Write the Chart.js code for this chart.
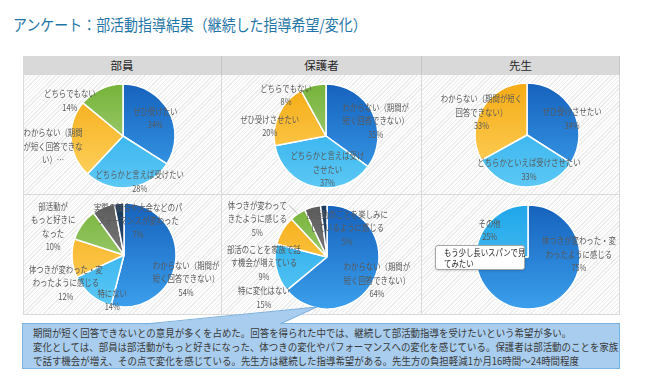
<!DOCTYPE html>
<html lang="ja">
<head>
<meta charset="utf-8">
<title>部活動指導結果</title>
<script src="https://cdn.jsdelivr.net/npm/chart.js@4.4.1/dist/chart.umd.min.js"></script>
<style>
  html, body { margin: 0; padding: 0; background: #fff; }
  body { position: relative; width: 670px; height: 377px; overflow: hidden;
         font-family: "Noto Sans CJK JP", "Noto Sans", sans-serif; }
  .title { position: absolute; left: 13px; top: 13px; font-size: 15.5px; line-height: 22px;
           color: #1f75a6; white-space: nowrap; transform: scaleX(0.9); transform-origin: 0 0; }
  .head { position: absolute; top: 56px; height: 19px; line-height: 19px; background: #d9d9d9;
          text-align: center; font-size: 11.5px; color: #262626; box-sizing: border-box;
          border-right: 1px solid #c6c6c6; }
  .cell { position: absolute; box-sizing: border-box; border-right: 1px solid #dadada;
          border-bottom: 1px solid #dadada;
          background: repeating-linear-gradient(-45deg, #fdfdfd 0 2px, #ececec 2px 3px); }
  canvas { position: absolute; }
  .summary { position: absolute; left: 22px; top: 323px; width: 598px; height: 46px;
             background: #a8cdee; border: 1px solid #7db1de; box-sizing: border-box; }
  .summary .txt { position: absolute; left: 10px; top: 2px; font-size: 10.5px; line-height: 13.8px;
                  color: #3b3b3b; white-space: nowrap; transform: scaleX(0.9); transform-origin: 0 0; }
  .wedge { position: absolute; left: 0; top: 0; z-index: 5; }
  .note { position: absolute; left: 435px; top: 245px; width: 90px; height: 25px; z-index: 5;
          background: #fff; border: 1px solid #a6a6a6; border-radius: 3px; box-sizing: border-box;
          box-shadow: 0 1px 2px rgba(0,0,0,0.15); }
  .note span { position: absolute; left: 8px; top: 1px; font-size: 9px; line-height: 11px;
               color: #262626; white-space: nowrap; transform: scaleX(0.82); transform-origin: 0 0; }
</style>
</head>
<body>
<div class="title">アンケート：部活動指導結果（継続した指導希望/変化）</div>

<div class="summary"><div class="txt">期間が短く回答できないとの意見が多くを占めた。回答を得られた中では、継続して部活動指導を受けたいという希望が多い。<br>変化としては、部員は部活動がもっと好きになった、体つきの変化やパフォーマンスへの変化を感じている。保護者は部活動のことを家族<br>で話す機会が増え、その点で変化を感じている。先生方は継続した指導希望がある。先生方の負担軽減1か月16時間～24時間程度</div></div>

<svg class="wedge" width="670" height="377">
  <polygon points="145,324.5 317,307 280,324.5" fill="#a8cdee"/>
  <polyline points="145,324 317,307 280,324" fill="none" stroke="#7db1de" stroke-width="1"/>
</svg>

<div class="note"><span>もう少し長いスパンで見<br>てみたい</span></div>

<script>
// --- データ ---
const groupNames = ['部員', '保護者', '先生'];

// 上段：継続した指導希望
const buinKibouLabels = ['ぜひ受けたい', 'どちらかと言えば受けたい', 'わからない（期間が短く回答できない）', 'どちらでもない'];
const buinKibouValues = [34, 28, 24, 14];

const hogoshaKibouLabels = ['わからない（期間が短く回答できない）', 'どちらかと言えば受けさせたい', 'ぜひ受けさせたい', 'どちらでもない'];
const hogoshaKibouValues = [35, 37, 20, 8];

const senseiKibouLabels = ['ぜひ受けさせたい', 'どちらかといえば受けさせたい', 'わからない（期間が短く回答できない）'];
const senseiKibouValues = [34, 33, 33];

// 下段：変化
const buinHenkaLabels = ['わからない（期間が短く回答できない）', '特にない', '体つきが変わった・変わったように感じる',
                         '部活動がもっと好きになった', '実際の試合や大会などのパフォーマンスが変わった', 'その他'];
const buinHenkaValues = [54, 14, 12, 10, 7, 3];

const hogoshaHenkaLabels = ['わからない（期間が短く回答できない）', '特に変化はない', '部活のことを家族で話す機会が増えている',
                            '体つきが変わってきたように感じる', '部活動のことを楽しみにしているように感じる', 'その他'];
const hogoshaHenkaValues = [64, 15, 9, 5, 5, 2];

const senseiHenkaLabels = ['体つきが変わった・変わったように感じる', 'その他'];
const senseiHenkaValues = [75, 25];

// --- レイアウト・スタイル ---
const columns = [23, 222, 422, 620];
const rows = [75, 195, 315];
const RADIUS = 52;
const LABEL_FONT = '9px "Noto Sans CJK JP"';
const LINE_H = 13.5;
const SQUEEZE = 0.82;          // Meiryo UI 風に横幅を詰める
const NO_LINE_START = '）、。';

const C = {
    blue:   ['#1662bd', '#3b9fec'],
    sky:    ['#1fa6ea', '#5cc8f5'],
    yellow: ['#f5ab14', '#ffd464'],
    green:  ['#76b33a', '#b6da8f'],
    gray:   ['#5d5d5d', '#8f8f8f'],
    navy:   ['#1b3a5c', '#2d5782']
};

// 表の見出しとセル
groupNames.forEach(function(name, i) {
    const h = document.createElement('div');
    h.className = 'head';
    h.style.left = columns[i] + 'px';
    h.style.width = (columns[i + 1] - columns[i]) + 'px';
    h.textContent = name;
    document.body.appendChild(h);
    for (let r = 0; r < 2; r++) {
        const c = document.createElement('div');
        c.className = 'cell';
        c.style.left = columns[i] + 'px';
        c.style.top = rows[r] + 'px';
        c.style.width = (columns[i + 1] - columns[i]) + 'px';
        c.style.height = (rows[r + 1] - rows[r]) + 'px';
        if (i === 0) c.style.borderLeft = '1px solid #dadada';
        document.body.appendChild(c);
    }
});

// 文字幅で折り返す（1文字単位、必要なら単語単位）
function wrapLines(ctx, text, maxW, byWord) {
    let parts = Array.from(text);
    if (byWord && typeof Intl !== 'undefined' && Intl.Segmenter) {
        parts = Array.from(new Intl.Segmenter('ja', { granularity: 'word' }).segment(text), s => s.segment);
    }
    const lines = [];
    let cur = '';
    parts.forEach(function(p) {
        const next = cur + p;
        if (cur && ctx.measureText(next).width * SQUEEZE > maxW && !NO_LINE_START.includes(p[0])) {
            lines.push(cur);
            cur = p;
        } else {
            cur = next;
        }
    });
    if (cur) lines.push(cur);
    return lines;
}

// データラベル（分類名＋割合）
function labelPlugin(cfg) {
    return {
        id: 'sliceLabels',
        afterDatasetsDraw(chart) {
            const ctx = chart.ctx;
            const arcs = chart.getDatasetMeta(0).data;
            const values = chart.data.datasets[0].data;
            const total = values.reduce((a, b) => a + b, 0);
            ctx.save();
            ctx.font = LABEL_FONT;
            ctx.fillStyle = '#595959';
            ctx.textAlign = 'center';
            ctx.textBaseline = 'middle';
            arcs.forEach(function(arc, i) {
                const pos = cfg.pos[i];
                if (!pos) return;
                const p = arc.getProps(['x', 'y', 'startAngle', 'endAngle', 'outerRadius'], true);
                const mid = (p.startAngle + p.endAngle) / 2;
                const ang = mid + pos[1] * Math.PI / 180;
                const bx = p.x + Math.cos(ang) * p.outerRadius * pos[0];
                const by = p.y + Math.sin(ang) * p.outerRadius * pos[0];
                let lines = wrapLines(ctx, chart.data.labels[i], cfg.wrap[i], cfg.byWord === i);
                lines.push(Math.round(values[i] / total * 100) + '%');
                const maxL = cfg.maxLines ? cfg.maxLines[i] : 0;
                if (maxL && lines.length > maxL) {
                    lines = lines.slice(0, maxL);
                    lines[maxL - 1] += '…';
                }
                const top = by - (lines.length - 1) * LINE_H / 2;
                lines.forEach(function(t, k) {
                    ctx.fillText(t, bx, top + k * LINE_H, ctx.measureText(t).width * SQUEEZE);
                });
                if (cfg.leader === i) {
                    const w0 = ctx.measureText(lines[0]).width * SQUEEZE;
                    ctx.strokeStyle = '#a6a6a6';
                    ctx.lineWidth = 0.75;
                    ctx.beginPath();
                    ctx.moveTo(bx + w0 / 2 + 2, top);
                    ctx.lineTo(p.x + Math.cos(mid) * p.outerRadius, p.y + Math.sin(mid) * p.outerRadius);
                    ctx.stroke();
                }
            });
            ctx.restore();
        }
    };
}

// グラデーション塗り
function gradient(context, colors) {
    const pair = colors[context.dataIndex];
    if (!pair) return '#888';
    const chart = context.chart;
    const area = chart.chartArea;
    if (!area) return pair[0];
    const g = chart.ctx.createLinearGradient(0, area.top, 0, area.bottom);
    g.addColorStop(0, pair[0]);
    g.addColorStop(1, pair[1]);
    return g;
}

// pos: [半径比, 角度補正(度)]
const charts = [
    { row: 0, col: 0, center: [123, 136], labels: buinKibouLabels, values: buinKibouValues,
      colors: [C.blue, C.sky, C.yellow, C.green],
      pos: [[0.71, 0], [0.93, -13], [1.36, -5], [1.23, -31]],
      wrap: [100, 100, 60, 70], maxLines: [0, 0, 3, 0] },
    { row: 0, col: 1, center: [326, 136], labels: hogoshaKibouLabels, values: hogoshaKibouValues,
      colors: [C.blue, C.sky, C.yellow, C.green],
      pos: [[1.0, 10], [0.64, -15], [1.1, -15], [1.1, -30]],
      wrap: [68, 75, 70, 70] },
    { row: 0, col: 2, center: [527, 135], labels: senseiKibouLabels, values: senseiKibouValues,
      colors: [C.blue, C.sky, C.yellow],
      pos: [[0.92, 9], [0.67, -5], [0.98, -4]],
      wrap: [100, 110, 82] },
    { row: 1, col: 0, center: [124, 255], labels: buinHenkaLabels, values: buinHenkaValues,
      colors: [C.blue, C.sky, C.yellow, C.green, C.gray, C.navy],
      pos: [[1.28, 14], [0.9, -25], [1.24, -22], [1.47, -14], [0.71, 46], null],
      wrap: [68, 60, 75, 46, 90, 60], byWord: 3 },
    { row: 1, col: 1, center: [327, 257], labels: hogoshaHenkaLabels, values: hogoshaHenkaValues,
      colors: [C.blue, C.sky, C.yellow, C.green, C.gray, C.navy],
      pos: [[1.06, 0], [1.44, -20], [1.22, -36], [1.53, -27], [0.68, 51], null],
      wrap: [68, 60, 75, 60, 82, 60], leader: 3 },
    { row: 1, col: 2, center: [528, 257], labels: senseiHenkaLabels, values: senseiHenkaValues,
      colors: [C.blue, C.sky],
      pos: [[0.98, -48], [0.9, -10]],
      wrap: [75, 60] }
];

document.addEventListener("DOMContentLoaded", function() {
    charts.forEach(function(g) {
        const x0 = columns[g.col], x1 = columns[g.col + 1];
        const y0 = rows[g.row], y1 = rows[g.row + 1];
        const cv = document.createElement('canvas');
        cv.width = x1 - x0;
        cv.height = y1 - y0;
        cv.style.left = x0 + 'px';
        cv.style.top = y0 + 'px';
        document.body.appendChild(cv);

        new Chart(cv, {
            type: 'pie',
            data: {
                labels: g.labels,
                datasets: [{
                    data: g.values,
                    radius: RADIUS,
                    backgroundColor: ctx => gradient(ctx, g.colors),
                    borderColor: '#ffffff',
                    borderWidth: 1.5,
                    hoverOffset: 0
                }]
            },
            options: {
                responsive: false,
                animation: false,
                events: [],
                layout: {
                    padding: {
                        left: g.center[0] - RADIUS - x0,
                        right: x1 - g.center[0] - RADIUS,
                        top: g.center[1] - RADIUS - y0,
                        bottom: y1 - g.center[1] - RADIUS
                    }
                },
                plugins: {
                    legend: { display: false },
                    tooltip: { enabled: false }
                }
            },
            plugins: [labelPlugin(g)]
        });
    });
});
</script>
</body>
</html>
